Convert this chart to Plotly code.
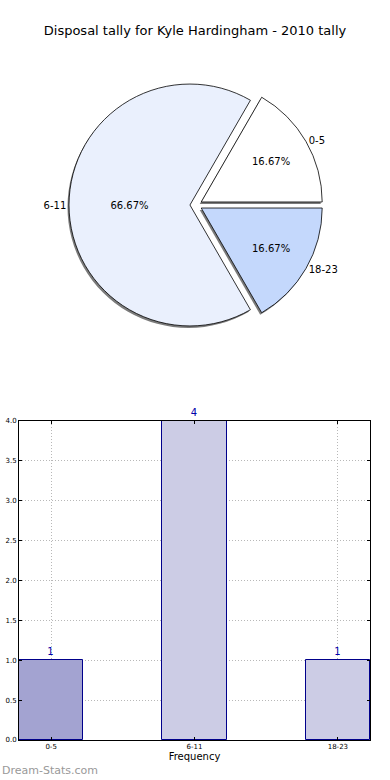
import plotly.graph_objects as go

title = "Disposal tally for Kyle Hardingham - 2010 tally"
categories = ["0-5", "6-11", "18-23"]
counts = [1, 4, 1]
pie_colors = ["#ffffff", "#eaf0fd", "#c4d8fc"]
bar_colors = ["#a3a3d1", "#ccccE5", "#ccccE5"]
y_ticks = [0.0, 0.5, 1.0, 1.5, 2.0, 2.5, 3.0, 3.5, 4.0]

W, H = 390, 780
fig = go.Figure()

cx, top, bot = 196, 78, 332
pie_domain = dict(x=[(cx - 140) / W, (cx + 140) / W], y=[1 - bot / H, 1 - top / H])
shadow_domain = dict(x=[(cx - 141.5) / W, (cx + 138.5) / W], y=[1 - (bot + 2) / H, 1 - (top + 2) / H])

common = dict(labels=categories, values=counts, sort=False, direction="counterclockwise",
              rotation=30, pull=[0.05, 0.05, 0.05], showlegend=False)

fig.add_trace(go.Pie(
    **common,
    marker=dict(colors=["rgba(90,90,90,0.8)"] * 3, line=dict(width=0)),
    textinfo="none", domain=shadow_domain, hoverinfo="skip",
))
fig.add_trace(go.Pie(
    **common,
    marker=dict(colors=pie_colors, line=dict(color="#000000", width=0.8)),
    texttemplate="%{percent:.2%}", textposition="inside", insidetextorientation="horizontal",
    textfont=dict(family="DejaVu Sans", size=10, color="#000000"),
    domain=pie_domain, hoverinfo="label+value+percent",
))
fig.add_trace(go.Pie(
    **common,
    marker=dict(colors=["rgba(0,0,0,0)"] * 3, line=dict(width=0)),
    texttemplate="%{label}", textposition="outside",
    textfont=dict(family="DejaVu Sans", size=10, color="#000000"),
    domain=pie_domain, hoverinfo="skip",
))

fig.add_trace(go.Bar(
    x=categories, y=counts, width=0.448,
    marker=dict(color=bar_colors, line=dict(color="#00008b", width=1)),
    text=[str(c) for c in counts], textposition="outside", cliponaxis=False,
    textfont=dict(family="DejaVu Sans", size=10, color="#0000aa"),
    xaxis="x", yaxis="y", showlegend=False,
))

grid = dict(showgrid=True, gridcolor="#b8b8b8", griddash="1px,2px", gridwidth=1)

fig.update_layout(
    width=W, height=H,
    margin=dict(l=0, r=0, t=0, b=0, autoexpand=False),
    paper_bgcolor="#ffffff", plot_bgcolor="#ffffff",
    font=dict(family="DejaVu Sans", color="#000000"),
    title=dict(text=title, x=0.5, xanchor="center", xref="paper", y=1 - 30 / H, yanchor="middle",
               yref="container", automargin=False,
               font=dict(family="DejaVu Sans", size=13, color="#000000")),
    xaxis=dict(domain=[19 / W, 370 / W], range=[-0.224, 2.224], type="category",
               showline=True, linecolor="#000000", linewidth=1, mirror="ticks",
               ticks="inside", ticklen=3, tickcolor="#000000",
               tickfont=dict(family="DejaVu Sans", size=7, color="#000000"),
               title=dict(text="Frequency", font=dict(family="DejaVu Sans", size=10), standoff=2),
               anchor="y", zeroline=False, automargin=False, **grid),
    yaxis=dict(domain=[1 - 740 / H, 1 - 421 / H], range=[0, 4],
               tickvals=y_ticks, ticktext=[f"{v:.1f}" for v in y_ticks],
               showline=True, linecolor="#000000", linewidth=1, mirror="ticks",
               ticks="inside", ticklen=3, tickcolor="#000000",
               tickfont=dict(family="DejaVu Sans", size=7, color="#000000"),
               anchor="x", zeroline=False, automargin=False, **grid),
    bargap=0,
    annotations=[dict(text="Dream-Stats.com", x=0, y=1 - 770 / H, xref="paper", yref="paper",
                      xanchor="left", yanchor="middle", showarrow=False,
                      font=dict(family="DejaVu Sans", size=11, color="#999999"))],
)

fig.write_html("out.html", config={"displayModeBar": False},
               post_script="document.body.style.margin='0';")
